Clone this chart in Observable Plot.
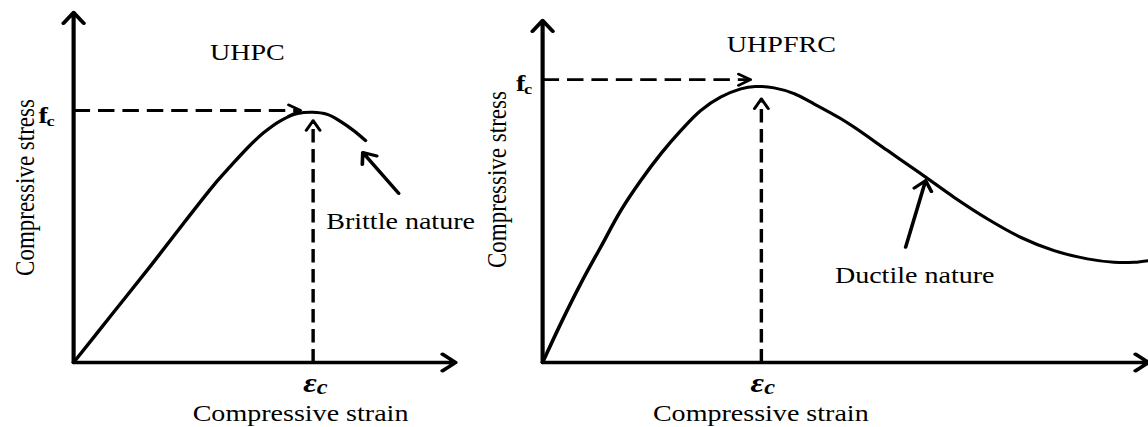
<!DOCTYPE html>
<html><head><meta charset="utf-8">
<script src="https://cdn.jsdelivr.net/npm/d3@7"></script>
<script src="https://cdn.jsdelivr.net/npm/@observablehq/plot@0.6"></script>
<style>
html,body{margin:0;padding:0;background:#fff;}
#wrap{display:flex;width:1148px;height:427px;overflow:hidden;background:#fff;}
</style></head><body><div id="wrap"></div>
<script>
// ---- data (normalised strain / stress) ----
const panelTitles = ["UHPC", "UHPFRC"];
const natureLabels = ["Brittle nature", "Ductile nature"];
const xAxisLabel = "Compressive strain";
const yAxisLabel = "Compressive stress";

const uhpcStrain = [0, 0.10, 0.20, 0.293, 0.367, 0.411, 0.455, 0.498, 0.542, 0.586, 0.625, 0.664, 0.70, 0.735, 0.764];
const uhpcStress = [0, 0.137, 0.274, 0.405, 0.507, 0.561, 0.613, 0.657, 0.691, 0.711, 0.715, 0.709, 0.688, 0.661, 0.634];

const uhpfrcStrain = [0, 0.0297, 0.0627, 0.0957, 0.129, 0.162, 0.195, 0.228, 0.261, 0.294, 0.327, 0.351, 0.382, 0.415, 0.448, 0.492, 0.514, 0.569, 0.624, 0.679, 0.734, 0.789, 0.844, 0.899, 0.943, 0.976, 1.0];
const uhpfrcStress = [0, 0.113, 0.230, 0.337, 0.444, 0.532, 0.610, 0.678, 0.737, 0.776, 0.800, 0.807, 0.803, 0.786, 0.756, 0.713, 0.688, 0.620, 0.552, 0.483, 0.420, 0.366, 0.327, 0.303, 0.293, 0.293, 0.298];

const peakStrain = [0.627, 0.361];     // ε_c
const peakStress = [0.72, 0.827];      // f_c (dashed level)
const fcArrowEnd = [0.594, 0.343];     // strain where the horizontal dashed arrow stops
const epsArrowEnd = [0.691, 0.771];    // stress where the vertical dashed arrow stops
const natureTail = [[0.851, 0.483], [0.599, 0.337]];
const natureTip = [[0.757, 0.600], [0.632, 0.532]];

// ---- layout ----
const S = 1.22;   // horizontal stretch of the original figure
const H = 427;
const serif = "'Liberation Serif','Times New Roman',Times,serif";

function panel(c) {
  const W = c.pageWidth / S;
  const ml = c.originX / S, mr = c.rightGap / S;
  const innerW = W - ml - mr, innerH = H - c.top - c.bottom;
  const curve = c.strain.map((s, i) => ({strain: s, stress: c.stress[i]}));
  const hDash = [{x1: 0, y1: c.fc, x2: c.fcTip, y2: c.fc}];
  const vDash = [{x1: c.eps, y1: 0, x2: c.eps, y2: c.epsTip}];
  const axes = [{x1: 0, y1: 0, x2: 0, y2: 1}, {x1: 0, y1: 0, x2: 1, y2: 0}];
  const nat = [{x1: c.tail[0], y1: c.tail[1], x2: c.tip[0], y2: c.tip[1]}];
  const seg = {x1: "x1", y1: "y1", x2: "x2", y2: "y2", stroke: "#000"};
  const t = {fontFamily: serif, fill: "#000", text: d => d};
  const marks = [
    Plot.line(curve, {x: "strain", y: "stress", curve: "catmull-rom", stroke: "#000", strokeWidth: 3}),
    Plot.link(hDash.concat(vDash), {...seg, strokeWidth: 2.8, strokeDasharray: "13.5,6.5"}),
    Plot.arrow(hDash, {...seg, strokeWidth: 2.6, headLength: 6.5, headAngle: 60, insetStart: c.fcTip * innerW - 2}),
    Plot.arrow(vDash, {...seg, strokeWidth: 2.6, headLength: 6.5, headAngle: 60, insetStart: c.epsTip * innerH - 2}),
    Plot.arrow(axes, {...seg, strokeWidth: 3.4, headLength: 6, headAngle: 75}),
    Plot.arrow(nat, {...seg, strokeWidth: 3, headLength: 6, headAngle: 75}),
    Plot.text([c.title], {...t, x: c.titleX, y: c.titleY, fontSize: 23}),
    Plot.text([c.nature], {...t, x: c.natX, y: c.natY, fontSize: 23}),
    Plot.text([yAxisLabel], {...t, x: 0, y: c.yLabY, dx: c.yLabDx, rotate: -90, fontSize: 23}),
    Plot.text([xAxisLabel], {...t, x: c.xLabX, y: 0, dy: 51, fontSize: 23}),
    Plot.text(["ε"], {...t, x: c.eps, y: 0, dx: c.epsDx, dy: 21, fontSize: 27, fontStyle: "italic", fontWeight: "bold"}),
    Plot.text(["c"], {...t, x: c.eps, y: 0, dx: c.epsDx + 10, dy: 25, fontSize: 20, fontStyle: "italic", fontWeight: "bold"}),
    Plot.text(["f"], {...t, x: 0, y: c.fc, dx: c.fDx, dy: c.fDy, fontSize: 23, fontWeight: "bold"}),
    Plot.text(["c"], {...t, x: 0, y: c.fc, dx: c.fDx + 6, dy: c.fDy + 6, fontSize: 15, fontWeight: "bold"})
  ];
  const svg = Plot.plot({
    width: W, height: H,
    marginLeft: ml, marginRight: mr, marginTop: c.top, marginBottom: c.bottom,
    x: {domain: [0, 1], axis: null},
    y: {domain: [0, 1], axis: null},
    style: {fontFamily: serif, background: "#fff"},
    marks
  });
  svg.setAttribute("width", c.pageWidth);
  svg.setAttribute("height", H);
  svg.setAttribute("preserveAspectRatio", "none");
  svg.style.cssText = `display:block;width:${c.pageWidth}px;height:${H}px;max-width:none;background:#fff;overflow:hidden;font-family:${serif}`;
  return svg;
}

const wrap = document.getElementById("wrap");
wrap.appendChild(panel({
  pageWidth: 480, originX: 73, rightGap: 25, top: 12, bottom: 65,
  strain: uhpcStrain, stress: uhpcStress,
  eps: peakStrain[0], fc: peakStress[0], fcTip: fcArrowEnd[0], epsTip: epsArrowEnd[0],
  tail: natureTail[0], tip: natureTip[0],
  title: panelTitles[0], titleX: 0.455, titleY: 0.884,
  nature: natureLabels[0], natX: 0.856, natY: 0.403,
  yLabY: 0.5, yLabDx: -40, xLabX: 0.594,
  epsDx: -2.5, fDx: -25, fDy: 5
}));
wrap.appendChild(panel({
  pageWidth: 668, originX: 62, rightGap: 0, top: 20, bottom: 65,
  strain: uhpfrcStrain, stress: uhpfrcStress,
  eps: peakStrain[1], fc: peakStress[1], fcTip: fcArrowEnd[1], epsTip: epsArrowEnd[1],
  tail: natureTail[1], tip: natureTip[1],
  title: panelTitles[1], titleX: 0.394, titleY: 0.928,
  nature: natureLabels[1], natX: 0.614, natY: 0.254,
  yLabY: 0.535, yLabDx: -37, xLabX: 0.36,
  epsDx: -3.3, fDx: -18, fDy: 4
}));
</script>
</body></html>
